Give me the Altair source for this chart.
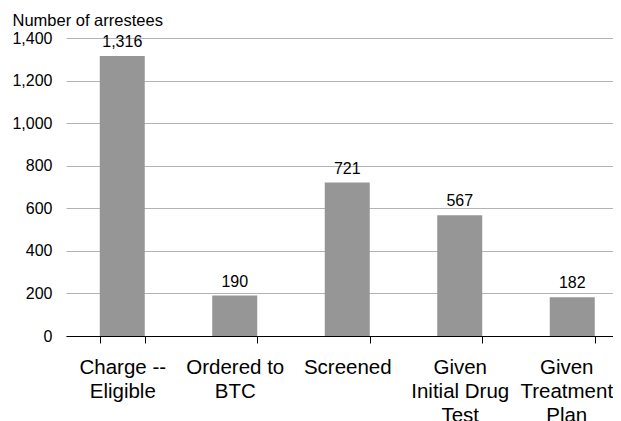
import altair as alt
import pandas as pd

categories = ["Charge --|Eligible", "Ordered to|BTC", "Screened", "Given|Initial Drug|Test", "Given|Treatment|Plan"]
values = [1316, 190, 721, 567, 182]
y_ticks = [0, 200, 400, 600, 800, 1000, 1200, 1400]

df = pd.DataFrame({"stage": categories, "count": values})

x_enc = alt.X(
    "stage:N",
    sort=None,
    scale=alt.Scale(paddingInner=0.6, paddingOuter=0.3, range=[0, 562.5]),
    axis=alt.Axis(
        title=None,
        labelAngle=0,
        labelExpr="split(datum.label, '|')",
        labelFontSize=20.5,
        labelLineHeight=24,
        labelColor="#000000",
        labelPadding=14,
        labelBaseline="top",
        labelOffset={
            "condition": {"test": "datum.value === 'Given|Treatment|Plan'", "value": -6},
            "value": 0,
        },
        tickBand="extent",
        tickSize=7,
        tickColor="#000000",
        domainColor="#000000",
        domainWidth=1.2,
        grid=False,
    ),
)

y_enc = alt.Y(
    "count:Q",
    scale=alt.Scale(domain=[0, 1400], nice=False),
    axis=alt.Axis(
        title="Number of arrestees",
        titleAngle=0,
        titleAlign="left",
        titleBaseline="alphabetic",
        titleX=-54,
        titleY=-13,
        titleFontSize=16.5,
        titleFontWeight="normal",
        titleColor="#000000",
        values=y_ticks,
        format=",d",
        labelFontSize=16,
        labelColor="#000000",
        labelPadding=14,
        ticks=False,
        domain=False,
        grid=True,
        gridColor="#b3b3b3",
        gridWidth=1,
    ),
)

bars = alt.Chart(df).mark_bar(color="#969696").encode(x=x_enc, y=y_enc)

labels = alt.Chart(df).mark_text(
    fontSize=16, color="#000000", dy=-9, baseline="alphabetic"
).encode(
    x=alt.X("stage:N", sort=None),
    y=alt.Y("count:Q"),
    text=alt.Text("count:Q", format=","),
)

chart = (
    alt.layer(bars, labels)
    .properties(
        width=547,
        height=298,
        autosize=alt.AutoSizeParams(type="none"),
        padding={"left": 58, "top": 30, "right": 0, "bottom": 90},
    )
    .configure(font="Liberation Sans")
    .configure_view(stroke=None)
)

chart.save("out.html", embed_options={"renderer": "svg", "actions": False})
